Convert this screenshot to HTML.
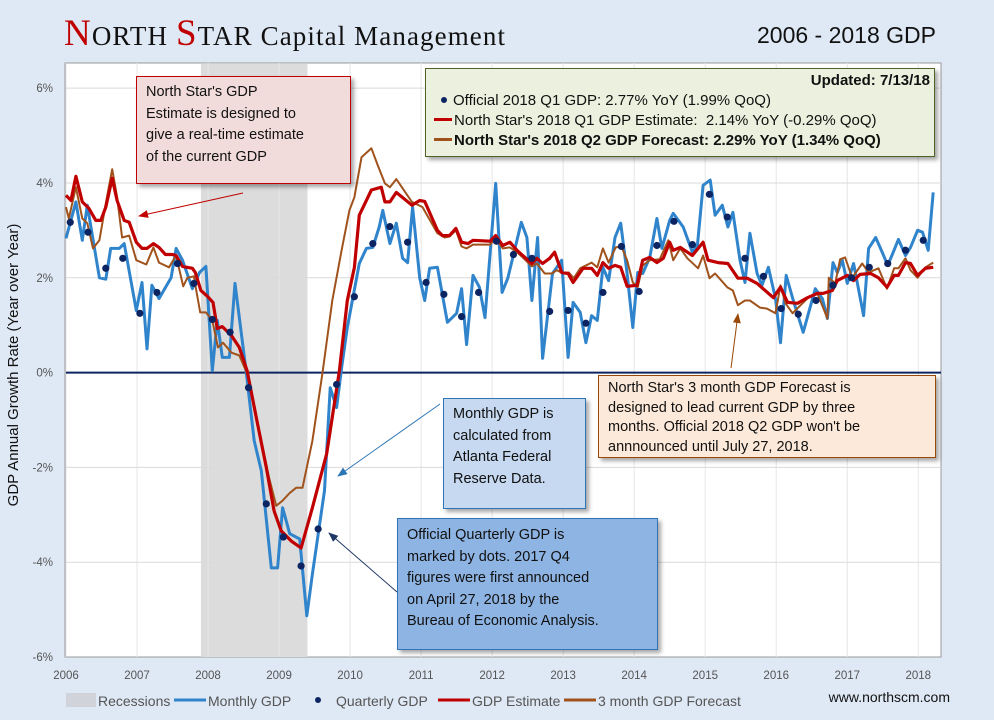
<!DOCTYPE html>
<html><head><meta charset="utf-8">
<style>
body{margin:0;width:994px;height:720px;background:#dfe9f5;overflow:hidden;font-family:"Liberation Sans",sans-serif;}
svg{position:absolute;left:0;top:0}
.box{position:absolute;box-sizing:border-box;font-size:14.5px;line-height:21.5px;color:#111;padding:5px 9px;white-space:nowrap;box-shadow:3px 3px 4px rgba(0,0,0,0.35)}
</style></head><body>
<svg width="994" height="720" id="chart">
<text x="64" y="45" font-family="Liberation Serif,serif" font-size="27" fill="#111" textLength="441"><tspan fill="#c00000" font-size="37">N</tspan>ORTH <tspan fill="#c00000" font-size="37">S</tspan>TAR Capital Management</text>
<text x="936" y="43" text-anchor="end" font-size="23" fill="#111">2006 - 2018 GDP</text>
<rect x="65" y="63" width="876" height="594" fill="#fff" stroke="#999"/>
<g id="grid"></g>
<g id="marks"></g>
<text transform="translate(18,365) rotate(-90)" text-anchor="middle" font-size="15" fill="#111">GDP Annual Growth Rate (Year over Year)</text>
<g font-size="14" fill="#555">
<rect x="66" y="693" width="30" height="14" fill="#d0d4da"/>
<text x="98" y="706">Recessions</text>
<line x1="174" y1="700" x2="206" y2="700" stroke="#2f84cc" stroke-width="3"/>
<text x="208" y="706">Monthly GDP</text>
<circle cx="318" cy="700" r="3" fill="#0c2461"/>
<text x="336" y="706">Quarterly GDP</text>
<line x1="438" y1="700" x2="470" y2="700" stroke="#c00000" stroke-width="3"/>
<text x="472" y="706">GDP Estimate</text>
<line x1="564" y1="700" x2="596" y2="700" stroke="#a0521c" stroke-width="3"/>
<text x="598" y="706">3 month GDP Forecast</text>
</g>
<text x="950" y="702" text-anchor="end" font-size="14" fill="#111">www.northscm.com</text>
<defs>
<marker id="ar" markerWidth="10" markerHeight="8" refX="9" refY="4" orient="auto"><path d="M0,0L10,4L0,8z" fill="#c00000"/></marker>
<marker id="ab" markerWidth="10" markerHeight="8" refX="9" refY="4" orient="auto"><path d="M0,0L10,4L0,8z" fill="#984807"/></marker>
<marker id="al" markerWidth="10" markerHeight="8" refX="9" refY="4" orient="auto"><path d="M0,0L10,4L0,8z" fill="#2e75b6"/></marker>
<marker id="an" markerWidth="10" markerHeight="8" refX="9" refY="4" orient="auto"><path d="M0,0L10,4L0,8z" fill="#1f3864"/></marker>
</defs>
<line x1="243" y1="193" x2="139" y2="216" stroke="#c00000" stroke-width="1" marker-end="url(#ar)"/>
<line x1="731" y1="368" x2="738" y2="314" stroke="#984807" stroke-width="1" marker-end="url(#ab)"/>
<line x1="440" y1="404" x2="338" y2="476" stroke="#2e75b6" stroke-width="1" marker-end="url(#al)"/>
<line x1="397" y1="592" x2="329" y2="533" stroke="#1f3864" stroke-width="1" marker-end="url(#an)"/>
</svg>

<div class="box" style="left:136px;top:76px;width:215px;height:108px;background:#f2dcdb;border:1.5px solid #c00000;">North Star's GDP<br>Estimate is designed to<br>give a real-time estimate<br>of the current GDP</div>
<div class="box" style="left:425px;top:68px;width:510px;height:89px;background:#ebf1de;border:1.5px solid #4f6228;padding:0 4px 0 8px;font-size:15px;line-height:20px">
<div style="text-align:right;font-weight:bold;padding-top:2px">Updated: 7/13/18</div>
<div><span style="display:inline-block;width:6px;height:6px;border-radius:50%;background:#0c2461;margin:0 6px 2px 7px"></span>Official 2018 Q1 GDP: 2.77% YoY (1.99% QoQ)</div>
<div><span style="display:inline-block;width:18px;height:3px;background:#c00000;margin:0 2px 4px 0"></span>North Star's 2018 Q1 GDP Estimate:&nbsp; 2.14% YoY (-0.29% QoQ)</div>
<div style="font-weight:bold"><span style="display:inline-block;width:18px;height:3px;background:#a0521c;margin:0 2px 4px 0"></span>North Star's 2018 Q2 GDP Forecast: 2.29% YoY (1.34% QoQ)</div>
</div>
<div class="box" style="left:443px;top:398px;width:143px;height:111px;background:#c6d9f1;border:1.5px solid #2e75b6;">Monthly GDP is<br>calculated from<br>Atlanta Federal<br>Reserve Data.</div>
<div class="box" style="left:598px;top:375px;width:338px;height:83px;background:#fde9d9;border:1.5px solid #984807;line-height:19.5px;padding-top:3px">North Star's 3 month GDP Forecast is<br>designed to lead current GDP by three<br>months. Official 2018 Q2 GDP won't be<br>annnounced until July 27, 2018.</div>
<div class="box" style="left:397px;top:518px;width:261px;height:132px;background:#8eb4e3;border:1.5px solid #2e75b6;padding-top:6px">Official Quarterly GDP is<br>marked by dots. 2017 Q4<br>figures were first announced<br>on April 27, 2018 by the<br>Bureau of Economic Analysis.</div>

<script>
const yearTicks=[2006,2007,2008,2009,2010,2011,2012,2013,2014,2015,2016,2017,2018];
const pctTicks=[6,4,2,0,-2,-4,-6];
const recession=[2007.9,2009.4];
const monthlyT=[2006.0,2006.14,2006.23,2006.3,2006.47,2006.56,2006.63,2006.75,2006.82,2006.99,2007.07,2007.14,2007.21,2007.31,2007.48,2007.55,2007.64,2007.78,2007.88,2007.97,2008.06,2008.13,2008.2,2008.3,2008.38,2008.54,2008.65,2008.75,2008.89,2008.98,2009.05,2009.15,2009.29,2009.39,2009.47,2009.64,2009.72,2009.81,2009.88,2009.96,2010.13,2010.23,2010.32,2010.41,2010.46,2010.56,2010.65,2010.74,2010.81,2010.88,2010.98,2011.05,2011.12,2011.23,2011.37,2011.5,2011.57,2011.64,2011.73,2011.82,2011.9,2012.05,2012.14,2012.22,2012.41,2012.49,2012.56,2012.64,2012.71,2012.85,2012.98,2013.07,2013.14,2013.24,2013.32,2013.4,2013.48,2013.56,2013.64,2013.73,2013.81,2013.9,2013.98,2014.05,2014.12,2014.22,2014.32,2014.39,2014.5,2014.55,2014.69,2014.82,2014.89,2014.97,2015.07,2015.14,2015.24,2015.32,2015.39,2015.49,2015.56,2015.63,2015.73,2015.8,2015.89,2015.99,2016.06,2016.14,2016.24,2016.38,2016.55,2016.65,2016.72,2016.8,2016.86,2016.93,2017.0,2017.09,2017.23,2017.3,2017.4,2017.5,2017.57,2017.64,2017.72,2017.82,2017.89,2017.99,2018.06,2018.14,2018.21];
const monthlyV=[2.83,3.6,2.79,3.53,2.0,1.97,2.62,2.62,2.72,1.31,1.9,0.5,1.84,1.56,2.0,2.62,2.37,1.77,2.11,2.24,0.04,1.1,0.32,0.32,1.88,-0.02,-1.44,-2.07,-4.12,-4.12,-2.85,-3.4,-3.51,-5.13,-4.25,-2.49,-0.32,-0.74,0.1,0.95,2.3,2.62,2.64,3.07,3.42,2.72,3.15,2.41,2.32,3.49,2.0,1.52,2.2,2.22,1.06,1.25,1.77,0.59,2.05,1.8,1.16,3.99,1.69,1.99,3.17,2.85,1.52,2.85,0.3,2.09,2.37,0.32,1.48,1.27,0.63,1.2,1.1,2.22,1.94,2.85,3.15,2.09,0.95,2.11,2.09,2.43,3.25,2.62,3.21,3.36,3.07,2.54,2.68,3.95,4.06,3.32,3.53,3.07,3.38,2.37,1.9,2.94,2.09,1.84,2.22,1.56,0.63,2.05,1.52,0.85,1.77,1.56,1.14,2.32,2.11,2.37,1.88,2.3,1.2,2.62,2.85,2.51,2.26,2.51,2.81,2.47,2.64,3.0,2.96,2.58,3.8];
const quarterT=[2006.06,2006.31,2006.56,2006.8,2007.04,2007.28,2007.57,2007.8,2008.06,2008.31,2008.57,2008.82,2009.06,2009.31,2009.55,2009.81,2010.06,2010.32,2010.56,2010.81,2011.07,2011.32,2011.57,2011.81,2012.06,2012.3,2012.56,2012.81,2013.07,2013.32,2013.56,2013.82,2014.07,2014.32,2014.56,2014.82,2015.06,2015.31,2015.56,2015.82,2016.07,2016.31,2016.56,2016.8,2017.06,2017.31,2017.57,2017.82,2018.07];
const quarterV=[3.17,2.96,2.2,2.41,1.25,1.69,2.3,1.88,1.12,0.85,-0.32,-2.77,-3.47,-4.08,-3.3,-0.25,1.6,2.72,3.08,2.75,1.9,1.65,1.18,1.69,2.77,2.49,2.41,1.29,1.31,1.04,1.69,2.66,1.71,2.68,3.19,2.7,3.76,3.28,2.41,2.03,1.35,1.23,1.52,1.84,2.0,2.22,2.3,2.58,2.79];
const estT=[2006.0,2006.07,2006.14,2006.23,2006.32,2006.42,2006.49,2006.56,2006.65,2006.72,2006.82,2006.89,2006.99,2007.07,2007.14,2007.23,2007.31,2007.4,2007.5,2007.55,2007.64,2007.78,2007.82,2007.9,2007.99,2008.07,2008.13,2008.2,2008.33,2008.44,2008.55,2008.68,2008.82,2008.93,2009.03,2009.17,2009.31,2009.47,2009.67,2009.85,2009.96,2010.06,2010.13,2010.3,2010.44,2010.49,2010.56,2010.65,2010.87,2010.98,2011.05,2011.23,2011.3,2011.4,2011.49,2011.57,2011.66,2011.73,2011.97,2012.05,2012.15,2012.25,2012.35,2012.43,2012.56,2012.63,2012.71,2012.81,2012.88,2012.98,2013.07,2013.14,2013.28,2013.4,2013.48,2013.56,2013.64,2013.73,2013.81,2013.9,2014.04,2014.12,2014.22,2014.32,2014.41,2014.5,2014.55,2014.65,2014.82,2014.97,2015.04,2015.18,2015.32,2015.46,2015.59,2015.73,2015.96,2016.06,2016.16,2016.3,2016.44,2016.58,2016.66,2016.79,2016.86,2017.0,2017.09,2017.18,2017.33,2017.44,2017.56,2017.66,2017.72,2017.82,2017.89,2017.99,2018.1,2018.21];
const estV=[3.74,3.63,4.14,3.6,3.47,3.21,3.21,3.49,4.1,3.63,3.21,3.17,2.75,2.62,2.62,2.72,2.64,2.49,2.49,2.47,2.24,2.2,2.11,1.73,1.61,1.48,0.93,0.97,0.78,0.53,0.04,-0.95,-2.0,-2.92,-3.34,-3.55,-3.7,-2.85,-1.71,0.04,1.52,2.22,3.32,3.85,3.91,3.6,3.6,3.8,3.53,3.63,3.61,3.0,2.89,2.89,3.04,2.75,2.72,2.79,2.77,2.89,2.68,2.75,2.58,2.47,2.3,2.41,2.3,2.41,2.54,2.11,2.09,1.9,2.2,2.2,2.05,2.32,2.2,2.26,2.22,1.82,1.84,2.37,2.43,2.32,2.41,2.75,2.58,2.64,2.47,2.75,2.37,2.32,2.3,1.99,1.99,1.88,1.58,1.8,1.48,1.46,1.58,1.67,1.67,1.73,1.94,2.05,1.94,2.07,2.09,2.0,1.8,2.05,2.05,2.32,2.3,2.05,2.2,2.22];
const fcT=[2006.0,2006.04,2006.14,2006.23,2006.3,2006.38,2006.47,2006.56,2006.65,2006.72,2006.79,2006.89,2006.99,2007.13,2007.23,2007.31,2007.45,2007.55,2007.65,2007.71,2007.8,2007.89,2007.97,2008.06,2008.14,2008.21,2008.33,2008.44,2008.55,2008.72,2008.86,2008.96,2009.05,2009.15,2009.24,2009.33,2009.47,2009.61,2009.75,2009.88,2009.99,2010.06,2010.16,2010.3,2010.39,2010.49,2010.56,2010.65,2010.87,2011.02,2011.23,2011.33,2011.4,2011.49,2011.57,2011.64,2011.73,2011.97,2012.05,2012.15,2012.25,2012.35,2012.43,2012.56,2012.63,2012.74,2012.84,2012.91,2013.0,2013.08,2013.15,2013.24,2013.4,2013.48,2013.56,2013.64,2013.74,2013.82,2013.9,2013.98,2014.05,2014.12,2014.22,2014.36,2014.48,2014.55,2014.65,2014.75,2014.9,2014.97,2015.06,2015.14,2015.31,2015.39,2015.46,2015.56,2015.63,2015.77,2015.87,2015.99,2016.06,2016.13,2016.23,2016.31,2016.45,2016.58,2016.72,2016.74,2016.83,2016.9,2016.97,2017.07,2017.21,2017.3,2017.44,2017.56,2017.66,2017.72,2017.82,2017.89,2017.99,2018.1,2018.21];
const fcV=[3.49,3.25,3.91,3.25,3.15,2.62,2.79,3.57,4.29,3.7,2.85,2.89,2.37,2.28,2.64,2.32,2.22,2.47,1.82,2.0,2.03,1.27,1.27,1.1,0.53,0.63,0.42,0.36,-0.02,-1.23,-2.22,-2.81,-2.7,-2.54,-2.43,-2.43,-1.44,-0.02,1.52,2.58,3.42,3.7,4.54,4.73,4.37,3.99,3.91,4.08,3.6,3.49,2.94,2.85,2.87,3.0,2.66,2.62,2.7,2.7,2.83,2.62,2.64,2.54,2.43,2.24,2.3,2.09,2.09,2.16,2.09,2.11,1.99,2.2,2.32,2.22,2.62,2.32,2.64,2.66,2.37,1.9,1.8,2.26,2.37,2.39,2.79,2.37,2.62,2.41,2.2,2.47,1.99,2.09,1.8,1.73,1.42,1.52,1.52,1.37,1.35,1.25,1.84,1.46,1.25,1.37,1.58,1.67,1.14,2.0,1.88,2.39,2.43,2.0,2.3,2.11,2.2,1.77,2.2,2.2,2.41,2.16,2.0,2.22,2.32];

const X0=66,X1=941,T0=2006,T1=2018.32,Y0=657,Y1=63,V0=-6,V1=6.53;
function xs(t){return X0+(t-T0)/(T1-T0)*(X1-X0);}
function ys(v){return Y0-(v-V0)/(V1-V0)*(Y0-Y1);}
const NS='http://www.w3.org/2000/svg';
function mk(tag,attrs,parent){const e=document.createElementNS(NS,tag);for(const k in attrs)e.setAttribute(k,attrs[k]);parent.appendChild(e);return e;}
const grid=document.getElementById('grid'),marks=document.getElementById('marks');
const rec=mk('rect',{x:xs(recession[0]),y:Y1+1,width:xs(recession[1])-xs(recession[0]),height:Y0-Y1-1,fill:'#dcdcdc'},grid);


yearTicks.forEach(function(yr){
  const gl=mk('line',{x1:xs(yr),x2:xs(yr),y1:Y1,y2:Y0,stroke:'#e6e6e6'},grid);
  
  
  const tx=mk('text',{x:xs(yr),y:679,'text-anchor':'middle','font-size':'11.5',fill:'#555'},grid);
  tx.textContent=yr;
  
  
});
pctTicks.forEach(function(p){
  if(p!==0&&p>-6){const gl=mk('line',{x1:X0,x2:X1,y1:ys(p),y2:ys(p),stroke:'#dadada'},grid);
  
  }
  const tx=mk('text',{x:53,y:ys(p)+4,'text-anchor':'end','font-size':'11.5',fill:'#555'},grid);
  tx.textContent=p+'%';
  
  
});
const zl=mk('line',{x1:X0,x2:X1,y1:ys(0),y2:ys(0),stroke:'#0c2461','stroke-width':2},grid);


function path(T,V){return T.map(function(t,i){return (i?'L':'M')+xs(t).toFixed(1)+','+ys(V[i]).toFixed(1);}).join('');}
const m=mk('path',{d:path(monthlyT,monthlyV),fill:'none',stroke:'#2f84cc','stroke-width':3,'stroke-linejoin':'round'},marks);


const f=mk('path',{d:path(fcT,fcV),fill:'none',stroke:'#a0521c','stroke-width':2,'stroke-linejoin':'round'},marks);


const e=mk('path',{d:path(estT,estV),fill:'none',stroke:'#c00000','stroke-width':3.2,'stroke-linejoin':'round'},marks);


quarterT.forEach(function(t,i){
  const c=mk('circle',{cx:xs(t),cy:ys(quarterV[i]),r:3.6,fill:'#0c2461'},marks);
  
  
});
</script>
</body></html>
